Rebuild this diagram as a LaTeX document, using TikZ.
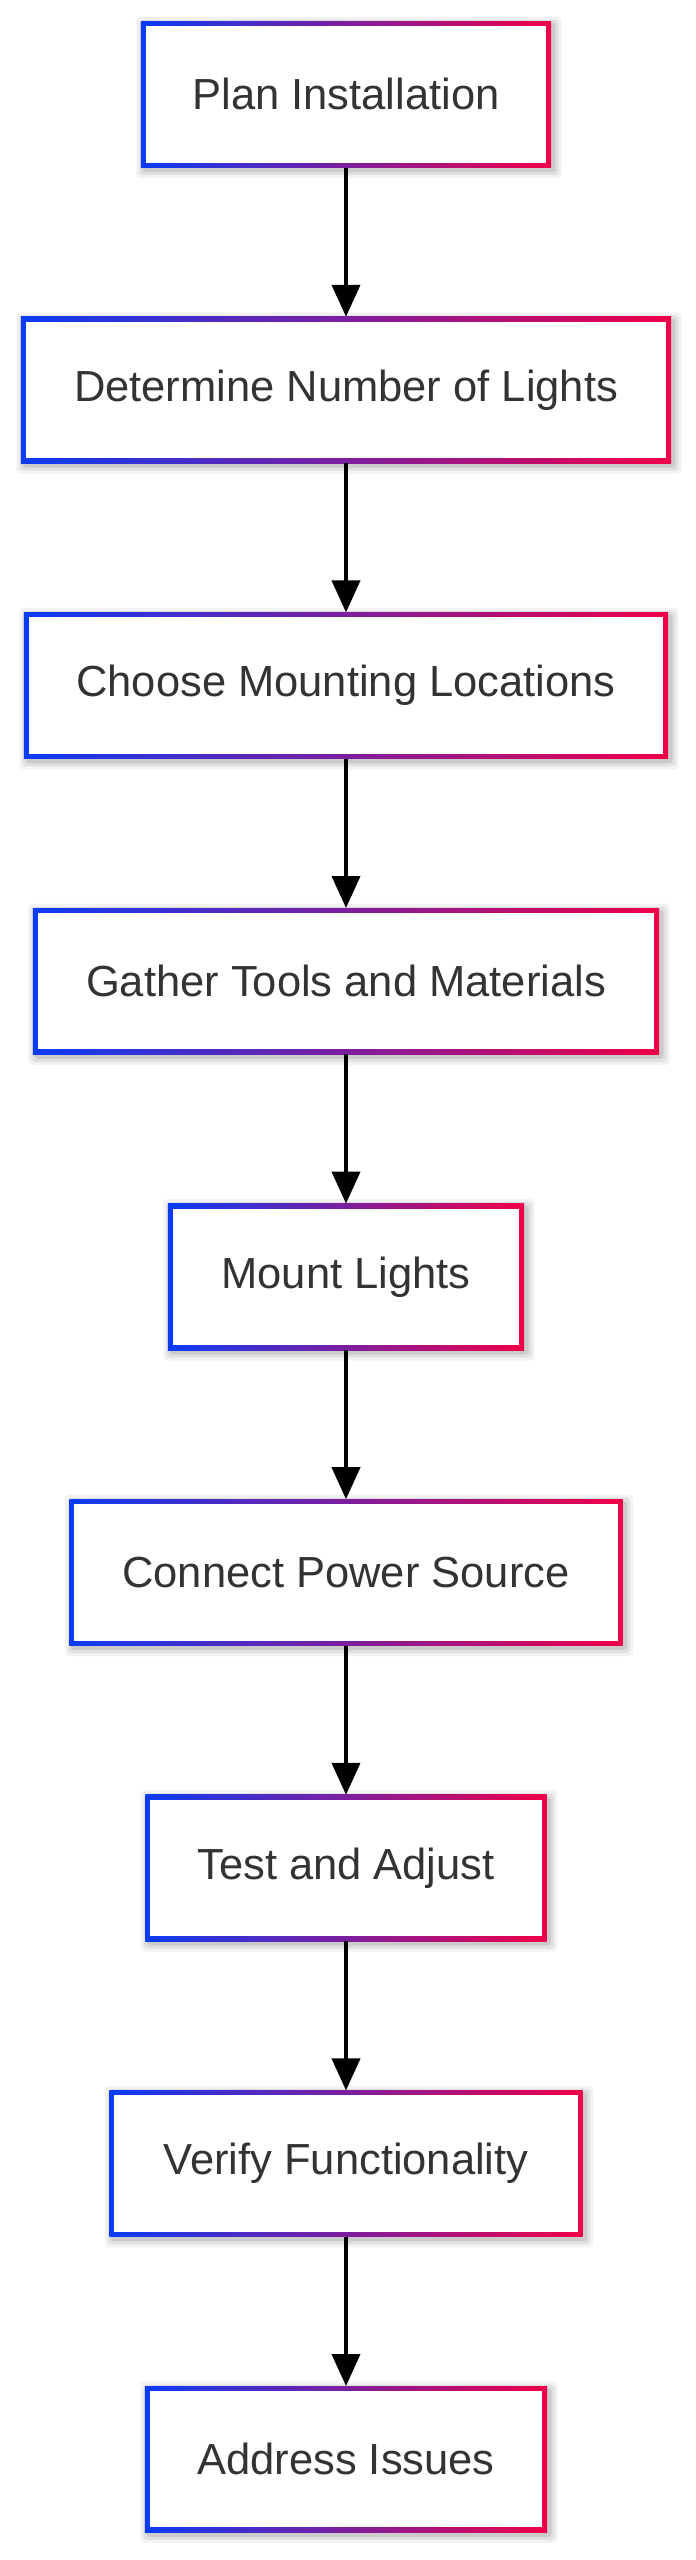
\documentclass[tikz,border=0pt]{standalone}
\usepackage{fontspec}
\setmainfont{Liberation Sans}
\usetikzlibrary{backgrounds,arrows.meta}
\definecolor{bblue}{HTML}{0A3CF5}
\definecolor{rred}{HTML}{F00048}
\definecolor{txt}{HTML}{333333}
\tikzset{
  box/.style={rectangle, minimum height=141pt, inner sep=0pt, font=\fontsize{43.5}{50}\selectfont, text=txt},
  conn/.style={line width=4pt, -{Triangle[length=32pt,width=28pt]}, shorten >=0pt}
}
\newcommand{\gbox}[4]{% name, y, width, text
  \node[box, minimum width=#3pt] (#1) at (346pt,-#2pt) {#4};
  \begin{scope}[on background layer]
    \foreach \s/\o in {10/0.05,7/0.07,4/0.09}{\fill[black,opacity=\o,rounded corners=4pt] ([xshift=-\s pt+3pt,yshift=-\s pt-3pt]#1.south west) rectangle ([xshift=\s pt+3pt,yshift=\s pt-3pt]#1.north east);}
    \shade[left color=bblue,right color=rred] ([shift={(-2.5pt,-2.5pt)}]#1.south west) rectangle ([shift={(2.5pt,2.5pt)}]#1.north east);
    \fill[white] ([shift={(2.5pt,2.5pt)}]#1.south west) rectangle ([shift={(-2.5pt,-2.5pt)}]#1.north east);
  \end{scope}}
\begin{document}
\begin{tikzpicture}[x=1pt,y=1pt]
\begin{scope}[on background layer]
\fill[white] (0,0) rectangle (696,-2560);
\end{scope}
\useasboundingbox (0,0) rectangle (696,-2560);
\gbox{n1}{94.4}{405}{Plan Installation}
\gbox{n2}{390.0}{645}{Determine Number of Lights}
\gbox{n3}{685.6}{639}{Choose Mounting Locations}
\gbox{n4}{981.2}{621}{Gather Tools and Materials}
\gbox{n5}{1276.8}{351}{Mount Lights}
\gbox{n6}{1572.4}{548}{Connect Power Source}
\gbox{n7}{1868.0}{396}{Test and Adjust}
\gbox{n8}{2163.6}{468}{Verify Functionality}
\gbox{n9}{2459.2}{397}{Address Issues}
\foreach \a/\b in {n1/n2,n2/n3,n3/n4,n4/n5,n5/n6,n6/n7,n7/n8,n8/n9}{
  \draw[conn] ([yshift=-2.5pt]\a.south) -- ([yshift=2.5pt]\b.north);}
\end{tikzpicture}
\end{document}
